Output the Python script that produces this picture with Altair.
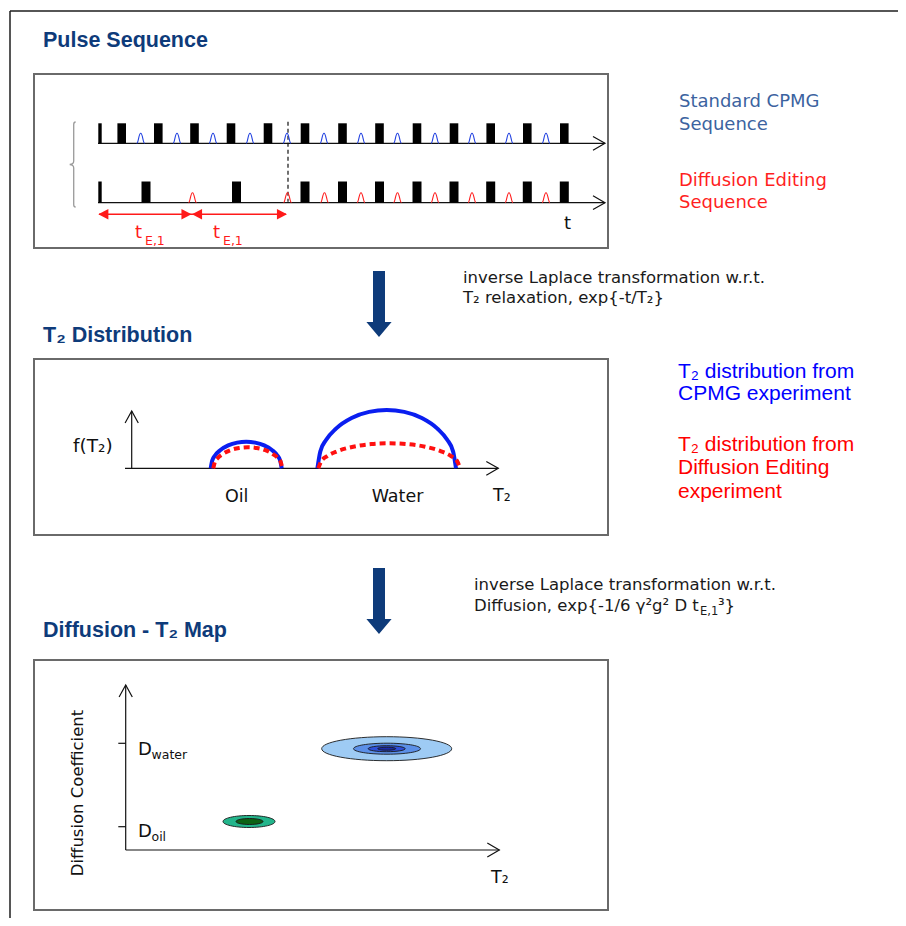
import altair as alt
import pandas as pd

# ------------------------------------------------------------------
# Values (page-pixel coordinates)
# ------------------------------------------------------------------
# Panel 1 : pulse sequences
cpmg_base, cpmg_top = 143.3, 123.3
de_base, de_top = 202.7, 181.5
excite_pulse = [98.3, 101.7]
cpmg_refocus = [121.7, 158.3, 194.5, 231.0, 268.0, 305.0, 342.5, 379.5, 417.0, 454.0, 490.7, 527.3, 564.3]
cpmg_echoes = [140.7, 177.0, 213.0, 250.0, 287.0, 324.0, 361.0, 397.5, 435.0, 472.0, 509.0, 546.0]
de_refocus = [146.0, 236.5, 305.0, 342.5, 379.5, 417.0, 454.0, 490.7, 527.3, 564.3]
de_echoes = [192.5, 287.5, 324.5, 361.0, 397.5, 435.0, 472.0, 509.0, 546.0]

# Panel 2 : T2 distributions (x position, f(T2) height above axis)
t2_axis_y = 468.3
oil_cpmg_x = [210.7, 212.2, 215.2, 220.2, 228.2, 237.2, 246.2, 255.2, 264.2, 272.2, 277.2, 280.2, 281.7]
oil_cpmg_f = [0, 7.7, 13.0, 18.1, 22.9, 25.7, 26.6, 25.7, 22.9, 18.1, 13.0, 7.7, 0]
oil_de_x = [213.3, 214.8, 217.8, 222.8, 230.3, 239.0, 247.8, 256.6, 265.3, 272.8, 277.8, 280.8, 282.3]
oil_de_f = [0, 6.1, 10.3, 14.3, 18.1, 20.3, 21.0, 20.3, 18.1, 14.3, 10.3, 6.1, 0]
water_cpmg_x = [317.4, 320.3, 326.2, 336.0, 351.6, 369.1, 386.7, 404.3, 421.8, 437.4, 447.2, 453.1, 456.0]
water_cpmg_f = [0, 16.8, 28.5, 39.7, 50.3, 56.4, 58.3, 56.4, 50.3, 39.7, 28.5, 16.8, 0]
water_de_x = [318.3, 321.3, 327.3, 337.3, 353.3, 371.2, 389.2, 407.2, 425.1, 441.1, 451.1, 457.1, 460.1]
water_de_f = [0, 7.2, 12.2, 17.0, 21.6, 24.2, 25.0, 24.2, 21.6, 17.0, 12.2, 7.2, 0]

# Panel 3 : D-T2 map contours (centre x, centre y, width, height, colour)
water_contours = [(386.7, 748.7, 130, 24, "#9ecbf4"), (387.0, 748.7, 67, 11, "#5b8fe8"),
                  (386.7, 748.7, 37, 6, "#2f4fd8"), (386.7, 748.7, 18, 3, "#1c2aa8")]
oil_contours = [(249.0, 821.5, 52, 12, "#23b58b"), (249.5, 821.5, 27, 6, "#0c6214")]

# ------------------------------------------------------------------
NAVY = "#0e3b7a"
XS = alt.Scale(domain=[8, 898], range=[0, 890], nice=False, zero=False)
YS = alt.Scale(domain=[8, 918], range=[0, 910], nice=False, zero=False)


def X(f="x"):
    return alt.X(f"{f}:Q", scale=XS, axis=None)


def Y(f="y"):
    return alt.Y(f"{f}:Q", scale=YS, axis=None)


layers = []

# ---- straight segments ----
segs = [
    (10, 11, 898, 11, "#1e1e1e", 1.5), (10, 11, 10, 918, "#1e1e1e", 1.5),
    (98, cpmg_base, 605, cpmg_base, "#111", 1.2), (98, de_base, 605, de_base, "#111", 1.2),
    (99, 214.3, 286, 214.3, "#ff1a1a", 1.5),
    (131.7, t2_axis_y, 131.7, 411, "#111", 1.2), (125, t2_axis_y, 498.3, t2_axis_y, "#111", 1.2),
    (125.7, 850, 125.7, 685, "#111", 1.2), (125.7, 850, 499.3, 850, "#111", 1.2),
    (118.3, 743.3, 125.7, 743.3, "#111", 1.2), (118.3, 826.7, 125.7, 826.7, "#111", 1.2),
]
seg_df = pd.DataFrame(segs, columns=["x", "y", "x2", "y2", "c", "w"])
layers.append(alt.Chart(seg_df).mark_rule().encode(
    x=X(), y=Y(), x2="x2:Q", y2="y2:Q",
    color=alt.Color("c:N", scale=None), strokeWidth=alt.StrokeWidth("w:Q", scale=None)))

dash_df = pd.DataFrame([(288, 121.7, 288, 201.7)], columns=["x", "y", "x2", "y2"])
layers.append(alt.Chart(dash_df).mark_rule(color="#111", strokeWidth=1.2, strokeDash=[4, 3]).encode(
    x=X(), y=Y(), x2="x2:Q", y2="y2:Q"))

# ---- panel boxes ----
box_df = pd.DataFrame([(34, 74, 608, 248), (34, 359, 608, 535), (34, 660, 608, 910)],
                      columns=["x", "y", "x2", "y2"])
layers.append(alt.Chart(box_df).mark_rect(filled=False, color="#6a6a6a", strokeWidth=2).encode(
    x=X(), y=Y(), x2="x2:Q", y2="y2:Q"))

# ---- pulses ----
pulse_rows = [(excite_pulse[0], excite_pulse[1], cpmg_top, cpmg_base),
              (excite_pulse[0], excite_pulse[1], de_top, de_base)]
pulse_rows += [(c - 4.3, c + 4.3, cpmg_top, cpmg_base) for c in cpmg_refocus]
pulse_rows += [(c - 4.5, c + 4.5, de_top, de_base) for c in de_refocus]
pulse_df = pd.DataFrame(pulse_rows, columns=["x", "x2", "y", "y2"])
layers.append(alt.Chart(pulse_df).mark_rect(color="black").encode(x=X(), x2="x2:Q", y=Y(), y2="y2:Q"))

# ---- echoes ----
ECHO = "M-0.8,1 C-0.45,1 -0.4,-1 0,-1 C0.4,-1 0.45,1 0.8,1"
echo_cpmg = pd.DataFrame({"x": cpmg_echoes, "y": [cpmg_base - 5] * len(cpmg_echoes)})
echo_de = pd.DataFrame({"x": de_echoes, "y": [de_base - 5] * len(de_echoes)})
layers.append(alt.Chart(echo_cpmg).mark_point(shape=ECHO, size=100, filled=False, color="#1f3fe0",
                                               strokeWidth=1.1, opacity=1).encode(x=X(), y=Y()))
layers.append(alt.Chart(echo_de).mark_point(shape=ECHO, size=100, filled=False, color="#ff1a1a",
                                             strokeWidth=1.1, opacity=1).encode(x=X(), y=Y()))

# ---- brace ----
BRACE = ("M0.05,-1 C0.01,-1 0.005,-0.98 0.005,-0.94 L0.005,-0.08 C0.005,-0.03 -0.03,0 -0.09,0 "
         "C-0.03,0 0.005,0.03 0.005,0.08 L0.005,0.94 C0.005,0.98 0.01,1 0.05,1")
layers.append(alt.Chart(pd.DataFrame({"x": [73.5], "y": [164.5]})).mark_point(
    shape=BRACE, size=7225, filled=False, color="#9a9a9a", strokeWidth=1.3, opacity=1).encode(x=X(), y=Y()))

# ---- open arrow heads on axes ----
HEAD_R = "M-2,-1.15 L0,0 L-2,1.15"
HEAD_U = "M-1.1,2 L0,0 L1.1,2"
hr = pd.DataFrame({"x": [605, 605, 498.3, 499.3], "y": [cpmg_base, de_base, t2_axis_y, 850]})
hu = pd.DataFrame({"x": [131.7, 125.7], "y": [411, 685]})
layers.append(alt.Chart(hr).mark_point(shape=HEAD_R, size=144, filled=False, color="#111",
                                       strokeWidth=1.2, opacity=1).encode(x=X(), y=Y()))
layers.append(alt.Chart(hu).mark_point(shape=HEAD_U, size=144, filled=False, color="#111",
                                       strokeWidth=1.2, opacity=1).encode(x=X(), y=Y()))

# ---- red filled arrow heads (t_E,1 spans) ----
TRI_R = "M0,0 L-1.9,-1 L-1.9,1 Z"
TRI_L = "M0,0 L1.9,-1 L1.9,1 Z"
layers.append(alt.Chart(pd.DataFrame({"x": [191.5, 287], "y": [214.3, 214.3]})).mark_point(
    shape=TRI_R, size=112, filled=True, color="#ff1a1a", opacity=1, strokeWidth=0).encode(x=X(), y=Y()))
layers.append(alt.Chart(pd.DataFrame({"x": [98.3, 192], "y": [214.3, 214.3]})).mark_point(
    shape=TRI_L, size=112, filled=True, color="#ff1a1a", opacity=1, strokeWidth=0).encode(x=X(), y=Y()))

# ---- big navy flow arrows ----
BIG = "M-0.5,-3 L0.5,-3 L0.5,1.25 L1.05,1.25 L0,2.5 L-1.05,1.25 L-0.5,1.25 Z"
layers.append(alt.Chart(pd.DataFrame({"x": [379, 379], "y": [307, 604]})).mark_point(
    shape=BIG, size=576, filled=True, color=NAVY, opacity=1, strokeWidth=0).encode(x=X(), y=Y()))

# ---- T2 distribution curves ----
def curve_df(xs, fs, name):
    return pd.DataFrame({"x": xs, "y": [t2_axis_y - f for f in fs], "curve": name})

blue_df = pd.concat([curve_df(oil_cpmg_x, oil_cpmg_f, "oil"), curve_df(water_cpmg_x, water_cpmg_f, "water")])
red_df = pd.concat([curve_df(oil_de_x, oil_de_f, "oil"), curve_df(water_de_x, water_de_f, "water")])
layers.append(alt.Chart(blue_df).mark_line(color="#0a1ef0", strokeWidth=4, interpolate="monotone").encode(
    x=X(), y=Y(), detail="curve:N"))
layers.append(alt.Chart(red_df).mark_line(color="#ff1010", strokeWidth=4, interpolate="monotone",
                                          strokeDash=[6, 4]).encode(x=X(), y=Y(), detail="curve:N"))

# ---- D-T2 map contours ----
K = 0.5523


def ellipse_path(r):
    return (f"M-1,0 C-1,{-K * r:.4f} {-K},{-r:.4f} 0,{-r:.4f} C{K},{-r:.4f} 1,{-K * r:.4f} 1,0 "
            f"C1,{K * r:.4f} {K},{r:.4f} 0,{r:.4f} C{-K},{r:.4f} -1,{K * r:.4f} -1,0 Z")


for cx, cy, w, h, col in water_contours + oil_contours:
    layers.append(alt.Chart(pd.DataFrame({"x": [cx], "y": [cy]})).mark_point(
        shape=ellipse_path(h / w), size=w * w, filled=True, color=col, stroke="#1a1a1a",
        strokeWidth=0.9, opacity=1).encode(x=X(), y=Y()))

# ---- texts ----
DJ, LS = "DejaVu Sans", "Liberation Sans"
text_rows = [
    # x, y, text, size, color, font, weight, align, angle
    (43, 47, "Pulse Sequence", 21.5, NAVY, LS, "bold", "left", 0),
    (43, 342, "T₂ Distribution", 21.5, NAVY, LS, "bold", "left", 0),
    (43, 637, "Diffusion - T₂ Map", 21.5, NAVY, LS, "bold", "left", 0),
    (679, 107, "Standard CPMG", 18, "#3c63a0", DJ, "normal", "left", 0),
    (679, 130, "Sequence", 18, "#3c63a0", DJ, "normal", "left", 0),
    (679, 186, "Diffusion Editing", 18, "#ff1f1f", DJ, "normal", "left", 0),
    (679, 208, "Sequence", 18, "#ff1f1f", DJ, "normal", "left", 0),
    (564, 229, "t", 18, "#111", DJ, "normal", "left", 0),
    (135, 238, "t", 18, "#ff1a1a", DJ, "normal", "left", 0),
    (145, 245, "E,1", 12.5, "#ff1a1a", DJ, "normal", "left", 0),
    (213, 238, "t", 18, "#ff1a1a", DJ, "normal", "left", 0),
    (223, 245, "E,1", 12.5, "#ff1a1a", DJ, "normal", "left", 0),
    (463, 283, "inverse Laplace transformation w.r.t.", 16.5, "#1a1a1a", DJ, "normal", "left", 0),
    (463, 303, "T₂ relaxation, exp{-t/T₂}", 16.5, "#1a1a1a", DJ, "normal", "left", 0),
    (474, 590, "inverse Laplace transformation w.r.t.", 16.5, "#1a1a1a", DJ, "normal", "left", 0),
    (474, 611, "Diffusion, exp{-1/6 γ²g² D t", 16.5, "#1a1a1a", DJ, "normal", "left", 0),
    (700, 615, "E,1", 11.5, "#1a1a1a", DJ, "normal", "left", 0),
    (718, 611, "³}", 16.5, "#1a1a1a", DJ, "normal", "left", 0),
    (678, 378, "T₂ distribution from", 21, "#0000ff", LS, "normal", "left", 0),
    (678, 400, "CPMG experiment", 21, "#0000ff", LS, "normal", "left", 0),
    (678, 451, "T₂ distribution from", 21, "#ff0000", LS, "normal", "left", 0),
    (678, 474, "Diffusion Editing", 21, "#ff0000", LS, "normal", "left", 0),
    (678, 498, "experiment", 21, "#ff0000", LS, "normal", "left", 0),
    (73, 452, "f(T₂)", 18.5, "#111", DJ, "normal", "left", 0),
    (493, 501, "T₂", 17.5, "#111", DJ, "normal", "left", 0),
    (236.7, 502, "Oil", 17.5, "#111", DJ, "normal", "center", 0),
    (397.5, 502, "Water", 17.5, "#111", DJ, "normal", "center", 0),
    (138, 755, "D", 18, "#111", DJ, "normal", "left", 0),
    (151.5, 759, "water", 12.5, "#111", DJ, "normal", "left", 0),
    (138, 837, "D", 18, "#111", DJ, "normal", "left", 0),
    (151.5, 841, "oil", 12.5, "#111", DJ, "normal", "left", 0),
    (491, 883, "T₂", 17.5, "#111", DJ, "normal", "left", 0),
    (83, 793, "Diffusion Coefficient", 16.5, "#111", DJ, "normal", "center", 270),
]
texts = pd.DataFrame(text_rows, columns=["x", "y", "text", "size", "color", "font", "weight", "align", "angle"])
for (font, weight, align, angle), g in texts.groupby(["font", "weight", "align", "angle"]):
    layers.append(alt.Chart(g).mark_text(font=font, fontWeight=weight, align=align,
                                         baseline="alphabetic", angle=int(angle)).encode(
        x=X(), y=Y(), text="text:N",
        size=alt.Size("size:Q", scale=None), color=alt.Color("color:N", scale=None)))

chart = alt.layer(*layers).properties(
    width=890, height=910, autosize=alt.AutoSizeParams(type="none"), padding=0, background="white"
).configure_view(strokeWidth=0)

chart.save("out.html", embed_options={"renderer": "svg", "actions": False})
